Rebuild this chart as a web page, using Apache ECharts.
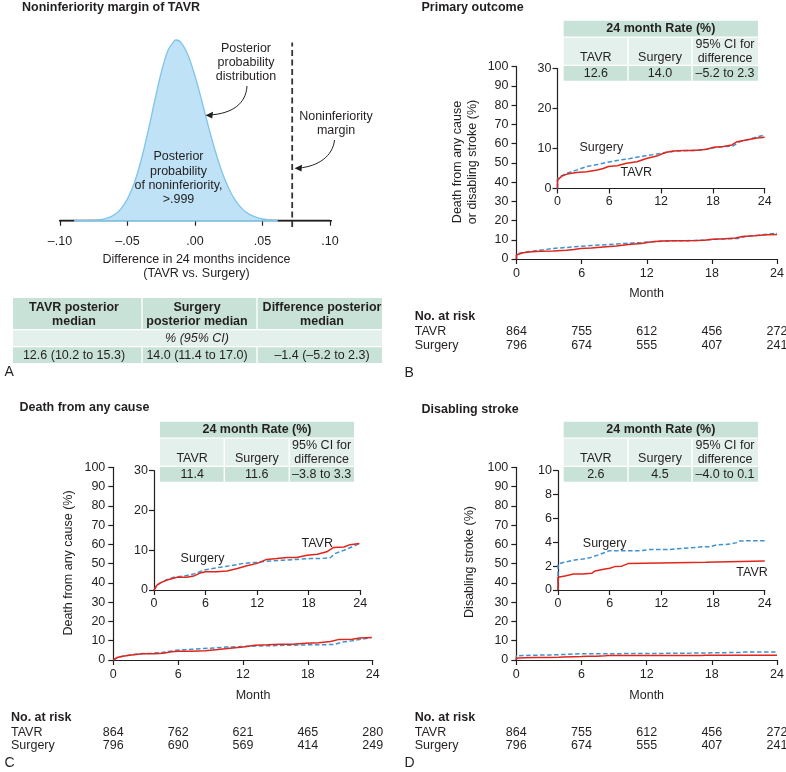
<!DOCTYPE html>
<html><head><meta charset="utf-8">
<script src="https://cdn.jsdelivr.net/npm/echarts@6/dist/echarts.min.js"></script>
<style>html,body{margin:0;padding:0;background:#fff}#c{width:786px;height:772px}</style>
</head><body><div id="c"></div>
<script>
// ---------- Panel A data ----------
const bellX = [-0.0894,-0.085,-0.080,-0.075,-0.070,-0.065,-0.060,-0.055,-0.050,-0.045,-0.040,-0.035,-0.030,-0.025,-0.020,-0.015,-0.014,-0.010,-0.005,0.000,0.005,0.010,0.015,0.020,0.025,0.030,0.035,0.040,0.045,0.050,0.055,0.0612];
const bellY = [0,0.05,0.15,0.4,1.1,2.6,5.7,11.6,21.7,37.5,59.7,87.6,118.5,147.6,169.7,179.7,180,176.8,164.2,144.1,119.5,93.6,69.4,48.5,32.1,20.0,11.8,6.6,3.5,1.7,0.8,0];
const marginValue = 0.072;
const aTickLabels = ['–.10','–.05','.00','.05','.10'];
const tblAHead = ['TAVR posterior\nmedian','Surgery\nposterior median','Difference posterior\nmedian'];
const tblASub = '% (95% CI)';
const tblAVals = ['12.6 (10.2 to 15.3)','14.0 (11.4 to 17.0)','–1.4 (–5.2 to 2.3)'];

// ---------- Panel B: primary outcome ----------
const bTavrMonth = [0,0,0.5,1.1,2.2,3.4,4.6,5.3,5.9,6.9,8.0,9.2,10.3,11.5,12.5,13.4,14.6,15.7,16.5,17.3,18.1,19.2,20.2,20.8,21.9,23.1,24];
const bTavrRate  = [0,2.1,3.1,3.6,4.0,4.2,4.6,5.0,5.5,5.7,6.3,6.7,7.5,8.1,9.0,9.4,9.5,9.5,9.6,9.8,10.3,10.5,10.9,11.7,12.1,12.6,12.8];
const bSurgMonth = [0,0,0.3,1.1,2.2,3.4,4.6,5.7,6.9,8.4,10.0,11.5,12.5,13.8,15.4,16.9,18.1,19.6,20.4,21.1,22.3,23.3,24];
const bSurgRate  = [0,2.5,3.0,3.8,4.6,5.5,6.0,6.5,7.0,7.5,8.1,8.6,9.0,9.4,9.5,9.7,10.2,10.5,10.7,11.7,12.4,13.0,13.4];
const bRisk = {TAVR:[864,755,612,456,272], Surgery:[796,674,555,407,241]};
const bRate = ['12.6','14.0','–5.2 to 2.3'];

// ---------- Panel C: death from any cause ----------
const cTavrMonth = [0,0.35,0.74,1.5,2.7,3.8,4.6,5.4,6.0,7.3,8.5,9.7,10.8,12.0,13.1,14.3,15.5,16.6,17.8,19.0,20.1,20.9,22.1,22.8,23.9];
const cTavrRate  = [0,1.25,1.8,2.5,3.2,3.2,3.5,4.3,4.6,4.6,4.8,5.4,6.1,6.7,7.7,7.9,8.2,8.2,8.75,9.0,9.6,10.7,10.8,11.4,11.7];
const cSurgMonth = [0,0.35,1.1,2.3,3.5,4.6,5.8,7.3,8.9,10.4,12.0,13.5,15.1,16.6,18.2,19.3,20.5,21.1,22.1,23.2,23.9];
const cSurgRate  = [0,1.25,2.25,3.2,3.5,4.0,5.0,5.6,6.1,6.7,7.0,7.3,7.5,7.7,7.9,7.9,8.1,9.2,10.0,11.0,11.7];
const cRisk = {TAVR:[864,762,621,465,280], Surgery:[796,690,569,414,249]};
const cRate = ['11.4','11.6','–3.8 to 3.3'];

// ---------- Panel D: disabling stroke ----------
const dTavrMonth = [0,0,0.23,0.8,1.8,2.9,3.9,4.3,5.3,6.0,6.6,7.4,8.2,8.4,17.1,17.3,24];
const dTavrRate  = [0,1.06,1.06,1.17,1.34,1.34,1.4,1.6,1.73,1.82,1.96,2.0,2.23,2.32,2.32,2.43,2.43];
const dSurgMonth = [0,0,0.6,1.8,2.9,3.7,4.9,6.0,6.8,8.4,9.6,10.7,11.8,13.0,14.6,16.1,16.9,17.65,18.4,20.0,20.75,21.1,22.3,24];
const dSurgRate  = [0,2.18,2.3,2.5,2.6,2.7,3.0,3.3,3.3,3.3,3.3,3.4,3.4,3.4,3.5,3.57,3.63,3.63,3.77,3.85,3.97,4.1,4.13,4.13];
const dRisk = {TAVR:[864,755,612,456,272], Surgery:[796,674,555,407,241]};
const dRate = ['2.6','4.5','–4.0 to 0.1'];

const rateHeader = '24 month Rate (%)';
const rateCols = ['TAVR','Surgery','95% CI for\ndifference'];
const monthTicks = [0,6,12,18,24];

// ---------- styling ----------
const F = '"Liberation Sans", Arial, Helvetica, sans-serif';
const INK = '#231f20';
const RED = '#e1251b';
const BLUE = '#3f92d2';
const MINT = '#c8e2d7';
const MINT_L = '#e4f0eb';
const FS = 12.5;

function pairs(m, r){ return m.map((v,i)=>[v, r[i]]); }

const grids = [
  {left:60, top:40, width:270, height:180.7},          // A
  {left:516.5, top:66.7, width:260.5, height:192.3},   // B main
  {left:557.5, top:68.5, width:207.2, height:120},     // B inset
  {left:113.3, top:467.3, width:259.4, height:192.7},  // C main
  {left:154, top:470.7, width:206.3, height:119.3},     // C inset
  {left:516.3, top:467.3, width:260.7, height:192.7},  // D main
  {left:558, top:470.7, width:206.7, height:119.3}     // D inset
].map(g => Object.assign({containLabel:false, outerBoundsMode:'none'}, g));

const axLine = {show:true, lineStyle:{color:INK, width:1.2}};
const axTick = {show:true, length:5, inside:false, lineStyle:{color:INK, width:1.2}};
function xAx(gi, margin){
  return {type:'value', gridIndex:gi, min:0, max:24, interval:6,
    axisLine:axLine, axisTick:axTick, splitLine:{show:false},
    axisLabel:{fontSize:FS, fontFamily:F, color:INK, margin:margin, showMinLabel:true, showMaxLabel:true}};
}
function yAx(gi, max, interval, margin){
  return {type:'value', gridIndex:gi, min:0, max:max, interval:interval,
    axisLine:axLine, axisTick:axTick, splitLine:{show:false},
    axisLabel:{fontSize:FS, fontFamily:F, color:INK, margin:margin, showMinLabel:true, showMaxLabel:true}};
}

const xAxes = [
  {type:'value', gridIndex:0, min:-0.1, max:0.1, interval:0.05, offset:8,
   axisLine:{show:true, lineStyle:{color:INK, width:1.3}}, axisTick:axTick, splitLine:{show:false},
   axisLabel:{fontSize:FS, fontFamily:F, color:INK, margin:6, showMinLabel:true, showMaxLabel:true,
     formatter:v=>{const i=Math.round((v+0.1)/0.05); return aTickLabels[i]!==undefined?aTickLabels[i]:'';}}},
  xAx(1,8), xAx(2,7), xAx(3,8), xAx(4,7), xAx(5,8), xAx(6,7)
];
const yAxes = [
  {type:'value', gridIndex:0, min:0, max:180, show:false},
  yAx(1,100,10,8), yAx(2,30,10,6), yAx(3,100,10,8), yAx(4,30,10,6), yAx(5,100,10,8), yAx(6,10,2,6)
];

function km(ai, m, r, dashed){
  return {type:'line', xAxisIndex:ai, yAxisIndex:ai, data:pairs(m,r), symbol:'none', showSymbol:false,
    lineStyle:{color:dashed?BLUE:RED, width:1.5, type:dashed?[4.5,2.5]:'solid'}, z:dashed?3:4, animation:false};
}

const series = [
  {type:'line', xAxisIndex:0, yAxisIndex:0, data:pairs(bellX,bellY), smooth:0.3, symbol:'none',
   lineStyle:{color:'#7ec5ea', width:1.3}, areaStyle:{color:'#c0e2f6', opacity:1}, clip:false, z:2},
  {type:'line', xAxisIndex:0, yAxisIndex:0, data:[[-0.108,0],[bellX[0],0]], symbol:'none',
   lineStyle:{color:INK, width:1.5}, clip:false, z:3},
  {type:'line', xAxisIndex:0, yAxisIndex:0, data:[[bellX[bellX.length-1],0],[0.112,0]], symbol:'none',
   lineStyle:{color:INK, width:1.5}, clip:false, z:3},
  {type:'line', xAxisIndex:0, yAxisIndex:0, data:[[bellX[0],0],[bellX[bellX.length-1],0]], symbol:'none',
   lineStyle:{color:'#7ec5ea', width:1.5}, clip:false, z:3},
  {type:'line', xAxisIndex:0, yAxisIndex:0, data:[[marginValue,-6.3],[marginValue,177.4]], symbol:'none',
   lineStyle:{color:'#333', width:1.8, type:[6,3.5]}, clip:false, z:4},
  km(1,bSurgMonth,bSurgRate,true), km(1,bTavrMonth,bTavrRate,false),
  km(2,bSurgMonth,bSurgRate,true), km(2,bTavrMonth,bTavrRate,false),
  km(3,cSurgMonth,cSurgRate,true), km(3,cTavrMonth,cTavrRate,false),
  km(4,cSurgMonth,cSurgRate,true), km(4,cTavrMonth,cTavrRate,false),
  km(5,dSurgMonth,dSurgRate,true), km(5,dTavrMonth,dTavrRate,false),
  km(6,dSurgMonth,dSurgRate,true), km(6,dTavrMonth,dTavrRate,false)
];

// ---------- graphic helpers ----------
function txt(x,y,text,o){
  o=o||{};
  const al=o.align||'center';
  return {type:'text', x:x, y:y, rotation:o.rot||0, z:100,
    style:{text:text, font:(o.italic?'italic ':'')+(o.bold?'bold ':'')+(o.size||FS)+'px '+F,
      fill:o.color||INK, align:al, textAlign:al, verticalAlign:'middle', textVerticalAlign:'middle', lineHeight:o.lh||14.4}};
}
function rect(x0,y0,x1,y1,fill){
  return {type:'rect', z:90, shape:{x:x0,y:y0,width:x1-x0,height:y1-y0}, style:{fill:fill}};
}
const G = [];

// Titles & panel letters
G.push(txt(22,8,'Noninferiority margin of TAVR',{bold:true,align:'left'}));
G.push(txt(421.5,7.5,'Primary outcome',{bold:true,align:'left'}));
G.push(txt(19.5,407.5,'Death from any cause',{bold:true,align:'left'}));
G.push(txt(421.5,409.3,'Disabling stroke',{bold:true,align:'left'}));
G.push(txt(4.5,372,'A',{align:'left',size:14}));
G.push(txt(404.5,373.3,'B',{align:'left',size:14}));
G.push(txt(4.5,763,'C',{align:'left',size:14}));
G.push(txt(404.5,763,'D',{align:'left',size:14}));

// Panel A annotations
G.push(txt(246,62.5,'Posterior\nprobability\ndistribution',{lh:14.2}));
G.push(txt(336,124,'Noninferiority\nmargin',{lh:14}));
G.push(txt(178.5,178.3,'Posterior\nprobability\nof noninferiority,\n>.999',{lh:14.4}));
G.push(txt(196.5,259.5,'Difference in 24 months incidence'));
G.push(txt(196.5,273.5,'(TAVR vs. Surgery)'));
G.push({type:'bezierCurve', z:95, shape:{x1:247,y1:86,cpx1:246,cpy1:104,cpx2:232,cpy2:113.5,x2:210,y2:115}, style:{stroke:INK,lineWidth:1,fill:null}});
G.push({type:'polygon', z:95, shape:{points:[[205.5,115.3],[213,111.8],[212.2,118.6]]}, style:{fill:INK}});
G.push({type:'bezierCurve', z:95, shape:{x1:334.5,y1:140,cpx1:333,cpy1:156,cpx2:318,cpy2:166.5,x2:299,y2:168}, style:{stroke:INK,lineWidth:1,fill:null}});
G.push({type:'polygon', z:95, shape:{points:[[294.5,168.3],[302,164.8],[301.5,171.6]]}, style:{fill:INK}});

// Table A
(function(){
  const cx=[13,142,257,382], tx=[74,197,322];
  G.push(rect(cx[0],298,cx[3],329,MINT));
  G.push(rect(cx[0],330.3,cx[3],346,MINT_L));
  G.push(rect(cx[0],347.3,cx[3],363,MINT));
  [1,2].forEach(i=>{ G.push(Object.assign(rect(cx[i]-0.7,298,cx[i]+0.7,329,'#fff'),{z:91}));
                     G.push(Object.assign(rect(cx[i]-0.7,347.3,cx[i]+0.7,363,'#fff'),{z:91})); });
  tblAHead.forEach((t,i)=>G.push(txt(tx[i],314.5,t,{bold:true,lh:14.4})));
  G.push(txt(197,339,tblASub,{italic:true}));
  tblAVals.forEach((t,i)=>G.push(txt(tx[i],355.2,t)));
})();

// Inset rate tables
function rateTable(cx, dy, vals){
  G.push(rect(cx[0],20.7+dy,cx[3],36.5+dy,MINT));
  G.push(rect(cx[0],37.7+dy,cx[3],64.8+dy,MINT_L));
  G.push(rect(cx[0],66+dy,cx[3],80.7+dy,MINT));
  [1,2].forEach(i=>{ G.push(Object.assign(rect(cx[i]-0.7,37.7+dy,cx[i]+0.7,80.7+dy,'#fff'),{z:91})); });
  G.push(txt((cx[0]+cx[3])/2,28.5+dy,rateHeader,{bold:true}));
  const mid=[(cx[0]+cx[1])/2,(cx[1]+cx[2])/2,(cx[2]+cx[3])/2];
  G.push(txt(mid[0],57.3+dy,rateCols[0]));
  G.push(txt(mid[1],57.3+dy,rateCols[1]));
  G.push(txt(mid[2],51.2+dy,rateCols[2],{lh:14.3}));
  vals.forEach((v,i)=>G.push(txt(mid[i],73.5+dy,v)));
}
rateTable([563.7,628,692,758],0,bRate);
rateTable([160,224.3,289.3,354],401,cRate);
rateTable([563.7,628,692,758],401,dRate);

// Inset curve labels
G.push(txt(601.3,147.7,'Surgery')); G.push(txt(636.3,172.3,'TAVR'));
G.push(txt(202.5,558.3,'Surgery')); G.push(txt(317.2,543.3,'TAVR'));
G.push(txt(604.7,543.3,'Surgery')); G.push(txt(752,572.7,'TAVR'));

// Axis titles
G.push(txt(465.5,162,'Death from any cause\nor disabling stroke (%)',{rot:Math.PI/2,lh:15}));
G.push(txt(69,563,'Death from any cause (%)',{rot:Math.PI/2}));
G.push(txt(470,562,'Disabling stroke (%)',{rot:Math.PI/2}));
G.push(txt(646.5,294,'Month'));
G.push(txt(253,695.7,'Month'));
G.push(txt(646.7,695.7,'Month'));

// No. at risk
function riskTable(xLabel, y0, gx, gw, risk){
  G.push(txt(xLabel,y0,'No. at risk',{bold:true,align:'left'}));
  G.push(txt(xLabel,y0+15,'TAVR',{align:'left'}));
  G.push(txt(xLabel,y0+28.5,'Surgery',{align:'left'}));
  monthTicks.forEach((m,i)=>{
    const x = gx + gw*m/24;
    G.push(txt(x,y0+15,String(risk.TAVR[i])));
    G.push(txt(x,y0+28.5,String(risk.Surgery[i])));
  });
}
riskTable(414.7,316.7,516.5,260.5,bRisk);
riskTable(11,717.3,113.3,259.4,cRisk);
riskTable(414.7,717.3,516.3,260.7,dRisk);

const chart = echarts.init(document.getElementById('c'), null, {renderer:'canvas', width:786, height:772});
chart.setOption({
  animation:false,
  backgroundColor:'#fff',
  textStyle:{fontFamily:F},
  grid:grids, xAxis:xAxes, yAxis:yAxes, series:series,
  graphic:{elements:G}
});
</script></body></html>
